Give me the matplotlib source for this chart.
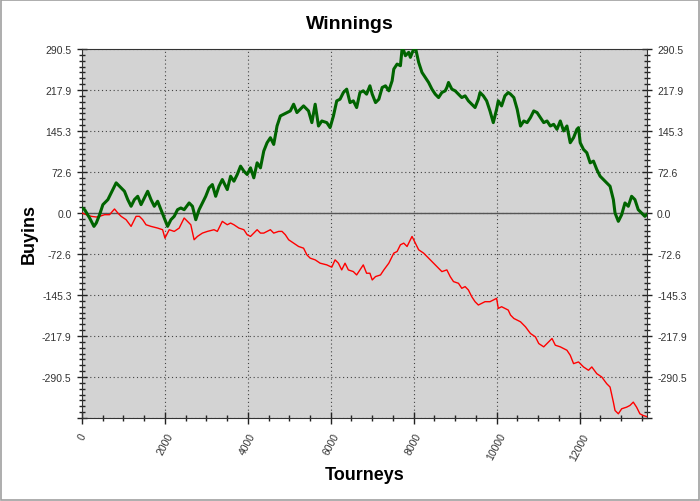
#!/usr/bin/env python
'''
winnings chart: net winnings vs. tourneys played, in buyins
'''

import numpy as np
import matplotlib
matplotlib.use('Agg')
import matplotlib.pyplot as plt
from matplotlib.ticker import FixedLocator, MultipleLocator
from matplotlib.patches import Rectangle

plt.rcParams['font.family'] = ['Liberation Sans', 'DejaVu Sans']

# green line (tourney number, buyins)
greenX = [0, 64, 184, 288, 344, 424, 504, 624, 744, 824, 904, 1024, 1104, 1184,
          1264, 1344, 1424, 1504, 1584, 1664, 1744, 1824, 1904, 2000, 2064, 2144,
          2224, 2304, 2384, 2464, 2584, 2664, 2744, 2824, 2904, 2984, 3064, 3144,
          3224, 3304, 3384, 3504, 3584, 3664, 3744, 3824, 3904, 3984, 4064, 4144,
          4224, 4304, 4384, 4464, 4544, 4624, 4704, 4784, 4864, 4944, 5024, 5104,
          5184, 5264, 5344, 5464, 5544, 5624, 5704, 5784, 5904, 5984, 6064, 6144,
          6224, 6304, 6384, 6464, 6544, 6624, 6704, 6784, 6864, 6944, 7000, 7080,
          7160, 7240, 7320, 7400, 7480, 7520, 7600, 7680, 7720, 7760, 7800, 7880,
          7920, 8000, 8040, 8120, 8200, 8280, 8360, 8440, 8520, 8600, 8680, 8760,
          8800, 8840, 8920, 9000, 9080, 9160, 9240, 9320, 9400, 9480, 9560, 9600,
          9680, 9760, 9840, 9920, 10000, 10040, 10120, 10200, 10280, 10336, 10416,
          10496, 10576, 10656, 10736, 10816, 10896, 10976, 11056, 11136, 11216,
          11296, 11376, 11456, 11536, 11616, 11696, 11776, 11856, 11936, 11976,
          12016, 12096, 12176, 12256, 12336, 12416, 12496, 12576, 12656, 12736,
          12816, 12856, 12936, 13016, 13096, 13176, 13256, 13336, 13416, 13496,
          13576, 13616]
greenY = [8.9, 5.9, -8.9, -23.7, -17.8, -3.0, 14.8, 23.7, 41.5, 53.4, 47.4, 38.5,
          23.7, 11.9, 23.7, 29.6, 14.8, 26.7, 38.5, 23.7, 11.9, 20.8, 5.9, -11.9,
          -23.7, -11.9, -5.9, 5.9, 8.9, 5.9, 17.8, 11.9, -11.9, 5.9, 17.8, 29.6,
          44.5, 50.4, 29.6, 47.4, 59.3, 41.5, 65.2, 56.3, 68.2, 83.0, 74.1, 68.2,
          80.0, 62.3, 88.9, 80.0, 109.7, 124.5, 133.4, 121.5, 154.1, 171.9, 174.9,
          177.9, 180.8, 192.7, 177.9, 183.8, 189.7, 180.8, 160.1, 192.7, 154.1,
          163.0, 160.1, 151.2, 171.9, 198.6, 201.6, 213.4, 219.4, 195.6, 198.6,
          186.8, 213.4, 216.4, 210.5, 225.3, 210.5, 195.6, 201.6, 222.3, 225.3,
          216.4, 234.2, 254.9, 263.8, 260.9, 290.5, 287.5, 278.6, 284.6, 275.7,
          290.5, 293.5, 266.8, 249.0, 240.1, 231.2, 219.4, 210.5, 204.5, 213.4,
          216.4, 222.3, 231.2, 219.4, 216.4, 210.5, 204.5, 207.5, 198.6, 192.7,
          186.8, 201.6, 213.4, 207.5, 198.6, 180.8, 160.1, 183.8, 198.6, 189.7,
          207.5, 213.4, 210.5, 204.5, 183.8, 154.1, 163.0, 160.1, 169.0, 180.8,
          177.9, 169.0, 160.1, 163.0, 154.1, 157.1, 148.2, 163.0, 145.3, 154.1,
          124.5, 133.4, 148.2, 151.2, 124.5, 112.6, 106.7, 88.9, 91.9, 77.1, 65.2,
          59.3, 53.4, 47.4, 23.7, 0.0, -14.8, -3.0, 17.8, 11.9, 29.6, 23.7, 5.9,
          0.0, -5.9, -3.0]

# red line
redX = [0, 104, 224, 344, 424, 544, 664, 784, 864, 944, 1064, 1184, 1304, 1384,
        1464, 1544, 1664, 1824, 1944, 2000, 2104, 2224, 2344, 2464, 2544, 2624,
        2704, 2784, 2904, 3024, 3184, 3264, 3384, 3504, 3584, 3664, 3784, 3904,
        3984, 4064, 4144, 4224, 4304, 4384, 4464, 4544, 4624, 4744, 4824, 4904,
        4984, 5104, 5224, 5344, 5424, 5504, 5624, 5744, 5904, 6024, 6104, 6184,
        6264, 6344, 6424, 6544, 6624, 6704, 6784, 6864, 6944, 7000, 7080, 7200,
        7280, 7400, 7520, 7600, 7680, 7760, 7840, 7920, 7960, 8040, 8120, 8240,
        8360, 8480, 8600, 8680, 8800, 8880, 8960, 9080, 9160, 9240, 9320, 9400,
        9480, 9560, 9640, 9720, 9840, 9920, 10000, 10040, 10120, 10200, 10280,
        10336, 10416, 10576, 10696, 10816, 10936, 11016, 11136, 11216, 11336,
        11416, 11536, 11696, 11776, 11856, 11976, 12096, 12216, 12296, 12416,
        12536, 12656, 12736, 12816, 12856, 12936, 13016, 13136, 13216, 13296,
        13376, 13456, 13536, 13616]
redY = [0.0, -3.0, -5.9, -7.1, -5.9, -3.0, -3.0, 7.1, 0.0, -5.9, -11.9, -23.7,
        -5.9, -5.9, -11.9, -20.8, -23.7, -26.7, -29.6, -44.5, -29.6, -32.6, -26.7,
        -8.9, -14.8, -20.8, -47.4, -41.5, -35.6, -32.6, -29.6, -32.6, -14.8,
        -20.8, -17.8, -20.8, -26.7, -29.6, -38.5, -41.5, -35.6, -29.6, -35.6,
        -35.6, -32.6, -29.6, -35.6, -32.6, -32.6, -38.5, -47.4, -53.4, -59.3,
        -62.3, -74.1, -80.0, -83.0, -88.9, -91.9, -96.0, -83.0, -88.9, -100.8,
        -88.9, -100.8, -103.8, -109.7, -100.8, -91.9, -106.7, -106.7, -118.6,
        -112.6, -109.7, -100.8, -88.9, -71.1, -68.2, -56.3, -53.4, -59.3, -47.4,
        -41.5, -53.4, -65.2, -71.1, -80.0, -88.9, -97.8, -103.8, -100.8, -112.6,
        -121.5, -124.5, -133.4, -130.4, -136.4, -148.2, -157.1, -163.0, -160.1,
        -157.1, -157.1, -154.1, -151.2, -169.0, -166.0, -169.0, -171.9, -180.8,
        -186.8, -192.7, -201.6, -213.4, -219.4, -231.2, -237.1, -231.2, -222.3,
        -234.2, -237.1, -243.1, -252.0, -266.8, -263.8, -272.7, -278.6, -272.7,
        -284.6, -290.5, -302.4, -308.3, -335.0, -349.8, -355.7, -346.8, -343.9,
        -340.9, -335.0, -343.9, -355.7, -358.7, -360.5]

yTicks = [-363.125, -290.5, -217.875, -145.25, -72.625, 0.0, 72.625, 145.25, 217.875, 290.5]
yTickLabels = ['', '-290.5', '-217.9', '-145.3', '-72.6', '0.0', '72.6', '145.3', '217.9', '290.5']
xTicks = [0, 2000, 4000, 6000, 8000, 10000, 12000]

figure = plt.figure(figsize=(7, 5.02), dpi=100)
figure.patch.set_facecolor('white')
axes = figure.add_axes([82/700, 1-419/502, (646.7-82)/700, (419-50)/502])
axes.set_facecolor('#d3d3d3')

axes.axhline(0, color='#555555', linewidth=1.0, zorder=2)
axes.plot(redX, redY, color='#ff0000', linewidth=1.0, zorder=3)
axes.plot(greenX, greenY, color='#006400', linewidth=2.2, zorder=4)

axes.set_xlim(0, 13620)
axes.set_ylim(yTicks[0], yTicks[-1])

axes.yaxis.set_major_locator(FixedLocator(yTicks))
axes.set_yticklabels(yTickLabels)
axes.yaxis.set_minor_locator(MultipleLocator(72.625/7))
axes.xaxis.set_major_locator(FixedLocator(xTicks))
axes.set_xticklabels([str(t) for t in xTicks], rotation=62, ha='center', va='top')
axes.xaxis.set_minor_locator(MultipleLocator(500))

axes.tick_params(axis='y', which='major', direction='inout', length=7, width=1,
                 labelsize=7.5, labelcolor='#333333', color='#222222',
                 left=True, right=True, labelleft=True, labelright=True, pad=4)
axes.tick_params(axis='y', which='minor', direction='inout', length=5, width=1,
                 color='#222222', left=True, right=True)
axes.tick_params(axis='x', which='major', direction='inout', length=9, width=1,
                 labelsize=7.5, labelcolor='#333333', color='#222222', pad=5)
axes.tick_params(axis='x', which='minor', direction='inout', length=5, width=1,
                 color='#222222')

axes.grid(True, which='major', color='#444444', linestyle=(0, (1, 2.5)), linewidth=0.8)
for side in axes.spines:
    axes.spines[side].set_color('#333333')

# title sits centred on the whole figure, not the axes
figure.text(0.5, 1 - 29.5/502, 'Winnings', fontsize=14, fontweight='bold',
            ha='center', va='baseline')
axes.set_xlabel('Tourneys', fontsize=13, fontweight='bold', labelpad=3)
axes.set_ylabel('Buyins', fontsize=13, fontweight='bold', labelpad=3)

figure.patches.append(Rectangle((0.001, 0.001), 0.997, 0.997, transform=figure.transFigure,
                                fill=False, edgecolor='#a0a0a0', linewidth=1.2))

figure.savefig('out.png', dpi=100)
